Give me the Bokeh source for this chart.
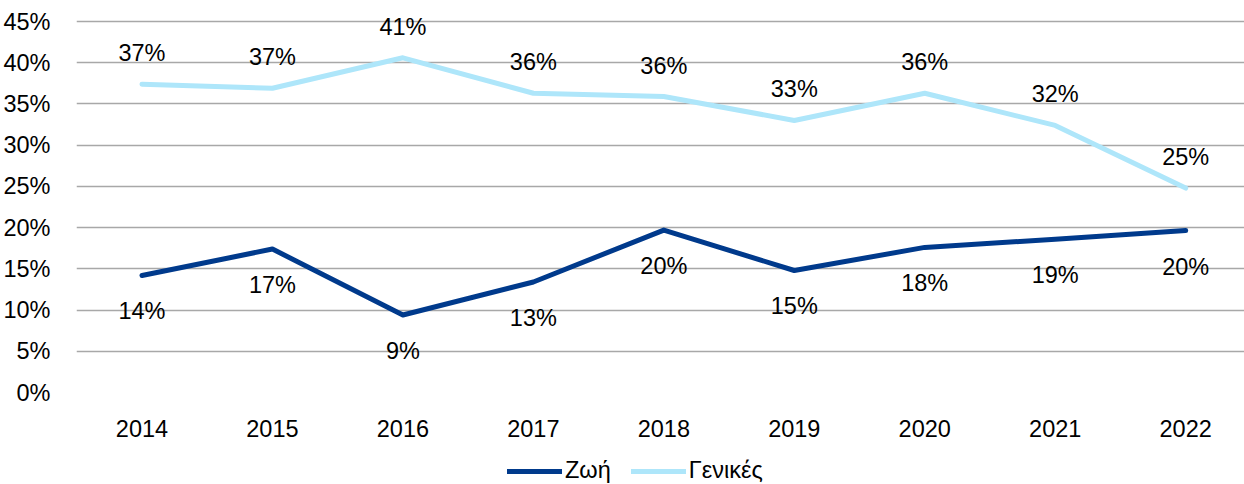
from bokeh.plotting import figure
from bokeh.layouts import column
from bokeh.models import ColumnDataSource, Range1d, FixedTicker, Legend, LegendItem
from bokeh.core.properties import value
from bokeh.embed import file_html
from bokeh.resources import INLINE

years = ["2014", "2015", "2016", "2017", "2018", "2019", "2020", "2021", "2022"]
zoi = [14.2, 17.4, 9.4, 13.4, 19.7, 14.8, 17.6, 18.6, 19.65]
genikes = [37.4, 36.9, 40.6, 36.3, 35.9, 33.0, 36.3, 32.4, 24.8]
y_ticks = [0, 5, 10, 15, 20, 25, 30, 35, 40, 45]
series_names = ["Ζωή", "Γενικές"]

FONT = "Liberation Sans"
FS = "23.5px"
DARK = "#003A8C"
LIGHT = "#AEE6FA"

xs = list(range(len(years)))
src_z = ColumnDataSource(dict(x=xs, y=zoi, lab=[f"{round(v)}%" for v in zoi]))
src_g = ColumnDataSource(dict(x=xs, y=genikes, lab=[f"{round(v)}%" for v in genikes]))

p = figure(width=1244, height=446, output_backend="svg", toolbar_location=None,
           x_range=Range1d(-0.502, 8.451), y_range=Range1d(0, 47.55),
           min_border_left=72, min_border_right=0, min_border_top=0, min_border_bottom=54)
p.outline_line_color = None
p.background_fill_color = "white"

p.xgrid.grid_line_color = None
p.ygrid.grid_line_color = "#A8A8A8"
p.ygrid.grid_line_width = 1.3
p.yaxis.ticker = FixedTicker(ticks=y_ticks)
p.yaxis.major_label_overrides = {t: f"{t}%" for t in y_ticks}
p.xaxis.ticker = FixedTicker(ticks=xs)
p.xaxis.major_label_overrides = {i: y for i, y in enumerate(years)}

for ax in (p.xaxis[0], p.yaxis[0]):
    ax.axis_line_color = None
    ax.major_tick_line_color = None
    ax.minor_tick_line_color = None
    ax.major_label_text_font = FONT
    ax.major_label_text_font_size = FS
    ax.major_label_text_color = "#000000"
p.yaxis.major_label_standoff = 20
p.xaxis.major_label_standoff = 21

p.line("x", "y", source=src_z, line_color=DARK, line_width=5, line_join="round", line_cap="round")
p.line("x", "y", source=src_g, line_color=LIGHT, line_width=5, line_join="round", line_cap="round")

p.text("x", "y", text="lab", source=src_g, y_offset=-31, text_align="center", text_baseline="middle",
       text_font=value(FONT), text_font_size=FS, text_color="#000000")
p.text("x", "y", text="lab", source=src_z, y_offset=36, text_align="center", text_baseline="middle",
       text_font=value(FONT), text_font_size=FS, text_color="#000000")

# legend strip
pl = figure(width=1244, height=38, output_backend="svg", toolbar_location=None,
            x_range=Range1d(0, 1), y_range=Range1d(0, 1),
            min_border_left=0, min_border_right=0, min_border_top=0, min_border_bottom=0)
pl.outline_line_color = None
pl.axis.visible = False
pl.grid.visible = False
lr_z = pl.line(x=[5, 6], y=[5, 5], line_color=DARK, line_width=5, line_cap="round")
lr_g = pl.line(x=[5, 6], y=[5, 5], line_color=LIGHT, line_width=5, line_cap="round")

legend = Legend(items=[LegendItem(label=series_names[0], renderers=[lr_z]),
                       LegendItem(label=series_names[1], renderers=[lr_g])],
                orientation="horizontal", location=(431, 0))
legend.label_text_font = FONT
legend.label_text_font_size = FS
legend.label_text_color = "#000000"
legend.glyph_width = 55
legend.glyph_height = 20
legend.label_standoff = 3
legend.spacing = 20
legend.padding = 0
legend.margin = 0
legend.border_line_color = None
legend.background_fill_alpha = 0
pl.add_layout(legend, "center")

layout = column(p, pl, spacing=0)
open("out.html", "w").write(file_html(layout, INLINE))
